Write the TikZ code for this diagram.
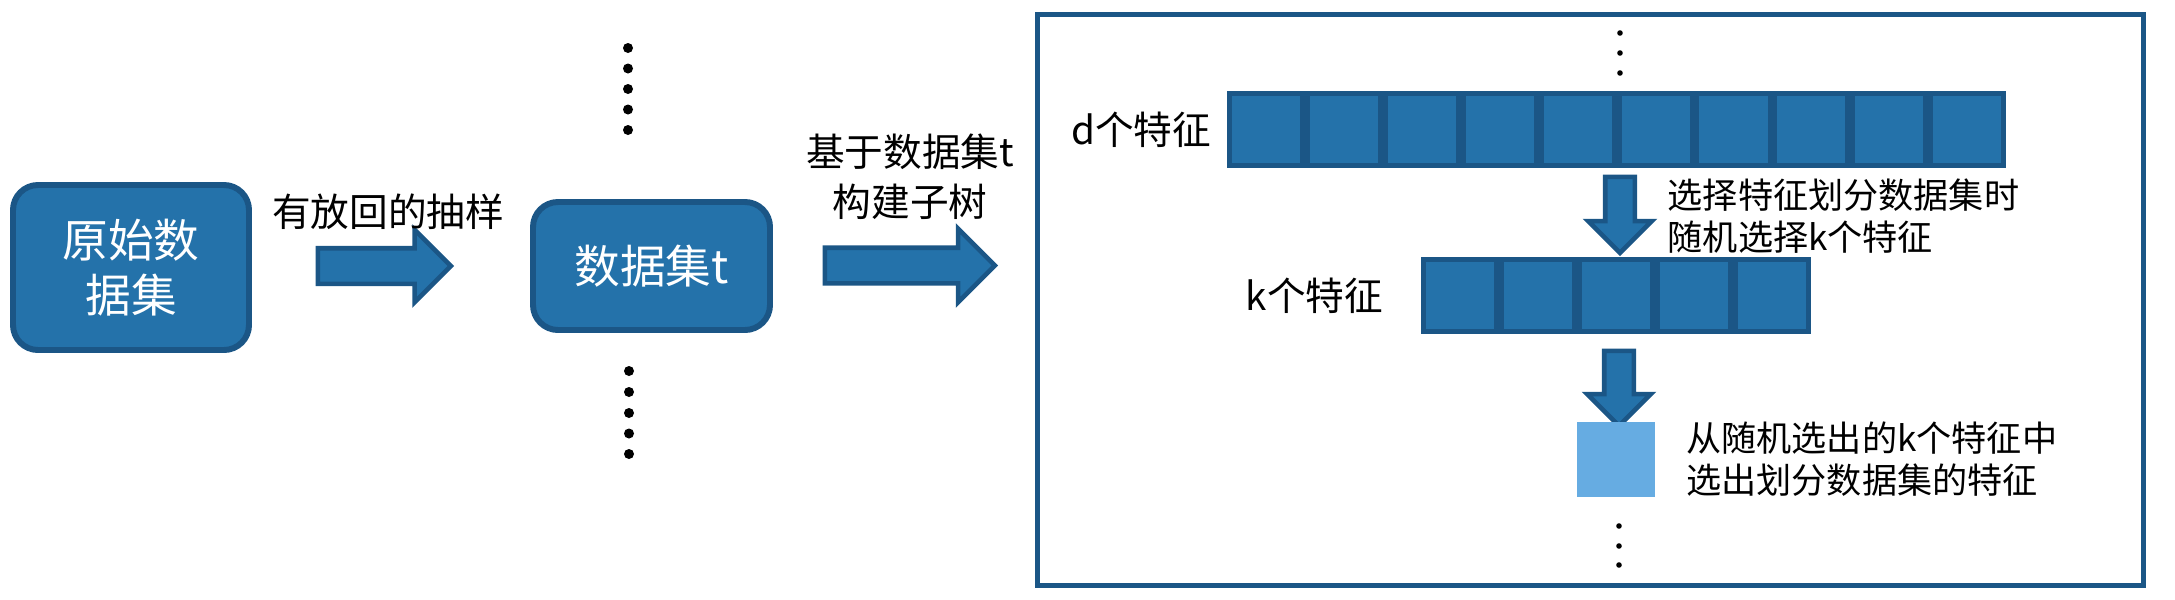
\documentclass[tikz,border=0pt]{standalone}
\usepackage{fontspec}
\setmainfont{Noto Sans CJK SC}
\usepackage{xcolor}
\definecolor{rfblue}{HTML}{2472AA}
\definecolor{rfdark}{HTML}{1B5686}
\definecolor{rflight}{HTML}{66ACE2}
\usepackage{tikz}
\usetikzlibrary{positioning,shapes.arrows}
\tikzset{
  dbox/.style ={rectangle, rounded corners=2.5mm, draw=rfdark, fill=rfblue, line width=1.7pt,
                text=white, align=center, inner sep=0pt, font=\fontsize{13}{15.6}\selectfont},
  fcell/.style={rectangle, draw=rfdark, fill=rfblue, line width=1.4pt, inner sep=0pt,
                minimum width=7.3mm, minimum height=7.2mm},
  pick/.style ={rectangle, fill=rflight, inner sep=0pt, minimum width=7.8mm, minimum height=7.5mm},
  barrow/.style={single arrow, draw=rfdark, fill=rfblue, line width=1.3pt, inner xsep=0pt},
  lbl/.style  ={align=center, inner sep=0pt, font=\fontsize{11}{14.2}\selectfont},
  note/.style ={align=left, anchor=west, inner sep=0pt, font=\fontsize{10}{12}\selectfont},
}

\begin{document}
\begin{tikzpicture}
  \useasboundingbox (0,0) rectangle (21.75,-6);
  % bootstrap sample
  \node[dbox, minimum width=23.6mm, minimum height=16.5mm] (orig) at (1.31,-2.675) {原始数\\据集};
  \node[barrow, inner ysep=1.55mm, single arrow head extend=1.85mm, minimum height=13.3mm] (a1) at (3.755,-2.66) {};
  \node[lbl] (l1) at (3.88,-2.12) {有放回的抽样};
  \node[dbox, minimum width=23.7mm, minimum height=12.8mm] (sub) at (6.515,-2.66) {数据集t};
  \foreach \y in {0.48,0.685,0.89,1.095,1.30} \fill (6.28,-\y) circle (0.05);
  \foreach \y in {3.71,3.92,4.13,4.335,4.54} \fill (6.29,-\y) circle (0.05);
  \node[barrow, inner ysep=1.55mm, single arrow head extend=1.9mm, minimum height=17mm] (a2) at (9.01,-2.655) {};
  \node[lbl] (l2) at (9.10,-1.77) {基于数据集t\\构建子树};

  % one subtree
  \node[rectangle, draw=rfdark, line width=1.4pt, minimum width=110.6mm, minimum height=57.1mm,
        inner sep=0pt] (tree) at (15.905,-3) {};
  \foreach \y in {0.33,0.53,0.73} \fill (16.2,-\y) circle (0.028);
  \node[fcell, anchor=west] (d1) at (12.27,-1.295) {};
  \foreach \i [count=\j from 1] in {2,...,10}
    \node[fcell, right=0pt of d\j] (d\i) {};
  \node[lbl, left=1.5mm of d1] (dl) {d个特征};
  \node[barrow, rotate=-90, inner ysep=1.25mm, single arrow head extend=1.7mm, minimum height=7.6mm] (a3) at (16.20,-2.075) {};
  \node[note] (n1) at (16.67,-2.16) {选择特征划分数据集时\\随机选择k个特征};
  \node[fcell, anchor=west] (k1) at (14.21,-2.955) {};
  \foreach \i [count=\j from 1] in {2,...,5}
    \node[fcell, right=0pt of k\j] (k\i) {};
  \node[lbl, left=3.7mm of k1] (kl) {k个特征};
  \node[barrow, rotate=-90, inner ysep=1.25mm, single arrow head extend=1.7mm, minimum height=7.5mm] (a4) at (16.19,-3.81) {};
  \node[pick] (best) at (16.16,-4.595) {};
  \node[note, right=3mm of best] (n2) {从随机选出的k个特征中\\选出划分数据集的特征};
  \foreach \y in {5.26,5.46,5.65} \fill (16.19,-\y) circle (0.028);
\end{tikzpicture}
\end{document}
